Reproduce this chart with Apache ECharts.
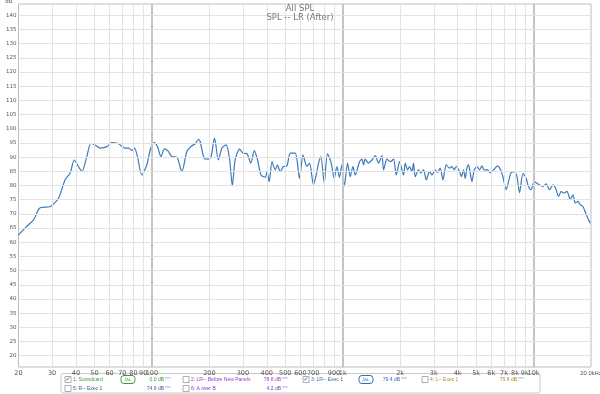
<!DOCTYPE html>
<html><head><meta charset="utf-8">
<script src="https://cdn.jsdelivr.net/npm/echarts@6/dist/echarts.min.js"></script>
<style>html,body{margin:0;padding:0;background:#fff}#c{width:600px;height:394px}</style>
</head><body><div id="c"></div>
<script>
// Frequency (Hz) of the SPL curve
const freq = [20,22.1,24.0,25.8,29.3,32.4,35.1,37.3,39.2,41.2,43.0,45.6,47.9,50.4,53.6,58.1,61.7,66.8,72.4,75.4,78.6,81.1,84.0,88.6,94.1,98.0,102.8,107,111.5,116.4,121.3,127.3,135.2,143.6,152.6,162,168.7,175.4,179,188,198,204,213,223,233,245,255,264,273,288,300,315,330,344,358,373,393,401,412,426,443,455,470,490,510,531,564,594,619,649,670,703,726,747,769,800,832,867,903,932,962,990,1018,1060,1095,1131,1163,1225,1261,1285,1312,1365,1422,1480,1540,1606,1637,1705,1774,1846,1907,1985,2083,2126,2186,2239,2305,2350,2399,2497,2570,2652,2740,2851,2935,3054,3140,3243,3351,3487,3629,3735,3840,3934,4094,4179,4296,4385,4476,4563,4658,4754,4888,5050,5212,5365,5515,5740,5929,6170,6475,6690,6910,7190,7396,7613,7920,8185,8446,8800,9160,9345,9690,10085,10420,10750,11200,11660,12130,12640,13040,13520,13970,14360,14960,15570,16090,16540,17090,17570,18150,18890,19820];
// SPL (dB)
const spl = [62.6,65.6,67.9,72.0,72.6,75.5,82,84.4,89.0,86.7,84.9,90.2,94.9,94.3,93.2,93.7,95.1,94.7,93.2,93.2,92.3,93.2,90.2,83.7,87.3,92.6,95.1,93.7,90.2,92.9,92.2,90.2,90,84.9,92,94,94.7,96.3,95.5,89.6,89.3,90,96.7,89,93.2,94.3,89.6,79.9,89,92.8,91.4,91.2,87.9,92.3,89,83.7,82.9,84.9,81.4,88.4,85.5,87.3,84.9,86.7,86.9,91.4,91.4,82.5,90.8,86.7,87.9,80.2,83.7,87.9,90.2,80.8,91.2,88.4,82.5,86.7,82.9,87.3,79.7,87.9,83.1,86.7,83.7,88.4,89.3,87.3,89.3,87.9,89,90.5,87.9,90.5,85.5,89.3,88.4,89.3,83.7,88.4,83.7,87.9,85.5,86.7,84.9,87.9,83.1,85.5,84.4,85.5,82,84.9,83.7,85.5,84.6,86.1,82,87.3,86.1,86.7,85.5,86.7,84.9,83.1,85.5,82.5,86.1,87.3,84.4,81.4,85.5,86.7,85.5,86.9,85.5,85.5,84.4,85.5,86.9,85.7,83.1,78.5,81.4,84.4,84.9,83.1,77.5,84.2,82.5,80.2,78.5,81.4,80.8,80.2,79.7,80.6,78.5,80.2,79.1,76.2,77.9,77.3,77.9,75,76.7,73.8,74.4,73.2,72.6,69.7,66.7];
// X tick labels
const xTicks = [20,30,40,50,60,70,80,90,100,200,300,400,500,600,700,900,1000,2000,3000,4000,5000,6000,7000,8000,9000,10000,20000];
// X grid lines
const xGrid = [30,40,50,60,70,80,90,100,200,300,400,500,600,700,800,900,1000,2000,3000,4000,5000,6000,7000,8000,9000,10000];
const xMajor = [100,1000,10000];
// Y tick labels / grid lines
const yTicks = [20,25,30,35,40,45,50,55,60,65,70,75,80,85,90,95,100,105,110,115,120,125,130,135,140];

const chart = echarts.init(document.getElementById('c'), null, {renderer:'canvas'});
const gridLines = [];
xGrid.forEach(v => gridLines.push({xAxis: v, lineStyle: {color: xMajor.includes(v) ? '#c4c4c4' : '#e2e2e2', width: xMajor.includes(v) ? 2 : 1, type:'solid'}}));
yTicks.forEach(v => gridLines.push({yAxis: v, lineStyle: {color:'#e2e2e2', width:1, type:'solid'}}));

function fmtX(v){
  if (v >= 20000) return '{s|20.0kHz}';
  if (v >= 1000) return (v/1000) + 'k';
  return String(v);
}

const FONT = 'DejaVu Sans';
const LFONT = 'Liberation Sans';
const legendItems = [];
function cb(x, y, checked){
  legendItems.push({type:'rect', shape:{x:x, y:y-3, width:6, height:6}, style:{fill:'#fff', stroke:'#999', lineWidth:0.8}});
  if (checked) legendItems.push({type:'text', style:{x:x+0.5, y:y, text:'✓', fill:'#444', font:'6px '+FONT, textVerticalAlign:'middle'}});
}
function txt(x, y, s, color, align, size){
  legendItems.push({type:'text', style:{x:x, y:y, text:s, fill:color, font:(size||5)+'px '+LFONT, textVerticalAlign:'middle', textAlign: align||'left'}});
}
function icon(x, y, color){
  legendItems.push({type:'rect', shape:{x:x, y:y-4, width:14, height:8, r:3}, style:{fill:'#fff', stroke:color, lineWidth:1}});
  legendItems.push({type:'text', style:{x:x+7, y:y, text:'∕ᴀʟ', fill:color, font:'5px '+FONT, textVerticalAlign:'middle', textAlign:'center'}});
}
const r1 = 379.5, r2 = 388.5;
legendItems.push({type:'rect', shape:{x:61, y:373.5, width:479, height:19.5, r:2}, style:{fill:'#fff', stroke:'#c8c8c8', lineWidth:1}});
cb(65, r1, true);  txt(73, r1, '1: Soundcard', '#3c9a3c');
icon(121, r1, '#3c9a3c'); txt(164, r1, '0.0 dB', '#3c9a3c', 'right'); txt(165, r1-1, 'rms', '#8aa0d8', 'left', 3.5);
cb(183, r1, false); txt(191, r1, '2: LR-- Before New Panels', '#9b3cc8');
txt(281, r1, '78.8 dB', '#9b3cc8', 'right'); txt(282, r1-1, 'rms', '#8aa0d8', 'left', 3.5);
cb(303, r1, true); txt(311, r1, '3: LR-- Exec 1', '#2f6fb0');
icon(359, r1, '#2f6fb0'); txt(400, r1, '79.4 dB', '#2f6fb0', 'right'); txt(401, r1-1, 'rms', '#8aa0d8', 'left', 3.5);
cb(422, r1, false); txt(430, r1, '4: L-- Exec 1', '#b08a2a');
txt(517, r1, '75.6 dB', '#b08a2a', 'right'); txt(518, r1-1, 'rms', '#8aa0d8', 'left', 3.5);
cb(65, r2, false); txt(73, r2, '5: R-- Exec 1', '#3a5a8a');
txt(164, r2, '74.9 dB', '#3a5a8a', 'right'); txt(165, r2-1, 'rms', '#8aa0d8', 'left', 3.5);
cb(183, r2, false); txt(191, r2, '6: A over B', '#7a3cc8');
txt(281, r2, '4.2 dB', '#7a3cc8', 'right'); txt(282, r2-1, 'rms', '#8aa0d8', 'left', 3.5);

const option = {
  animation: false,
  backgroundColor: '#fff',
  title: {
    text: 'All SPL', subtext: 'SPL -- LR (After)', left: 'center', top: 4, itemGap: 0,
    textStyle: {fontFamily: FONT, fontSize: 8.5, fontWeight: 'normal', color: '#777'},
    subtextStyle: {fontFamily: FONT, fontSize: 8.5, color: '#777'},
    padding: 0
  },
  grid: {left: 18.5, right: 9, top: 4, bottom: 27, show: true, borderColor: '#bdbdbd', borderWidth: 1, backgroundColor:'#fff', containLabel: false, outerBoundsMode: 'none'},
  xAxis: {
    type: 'log', logBase: 10, min: 20, max: 20000,
    axisLine: {show: false}, axisTick: {show: false}, splitLine: {show: false}, minorSplitLine:{show:false},
    axisLabel: {customValues: xTicks, formatter: v => fmtX(v), fontSize: 6.5, color: '#555', fontFamily: FONT, margin: 3, showMinLabel: true, showMaxLabel: true, hideOverlap: false,
      rich: {s: {fontSize: 5.8, fontFamily: LFONT, color: '#555'}}}
  },
  yAxis: {
    type: 'value', min: 16, max: 144,
    axisLine: {show: false}, axisTick: {show: false}, splitLine: {show: false},
    axisLabel: {customValues: yTicks, fontSize: 5.5, color: '#555', fontFamily: FONT, margin: 2}
  },
  graphic: [
    {type:'text', style:{x: 9, y: 2, text:'dB', fill:'#555', font:'5.5px '+FONT, textAlign:'center', textVerticalAlign:'middle'}},
    {type:'group', children: legendItems}
  ],
  series: [
    {type:'line', data: [], z: 1, silent: true,
     markLine: {silent: true, symbol: ['none','none'], label: {show:false}, animation:false, data: gridLines}},
    {type:'line', z: 3, data: freq.map((f,i) => [f, spl[i]]), showSymbol: false, smooth: 0.25,
     lineStyle: {color: '#3b7bbd', width: 1.2}, itemStyle:{color:'#3b7bbd'}}
  ]
};
chart.setOption(option);
</script>
</body></html>
